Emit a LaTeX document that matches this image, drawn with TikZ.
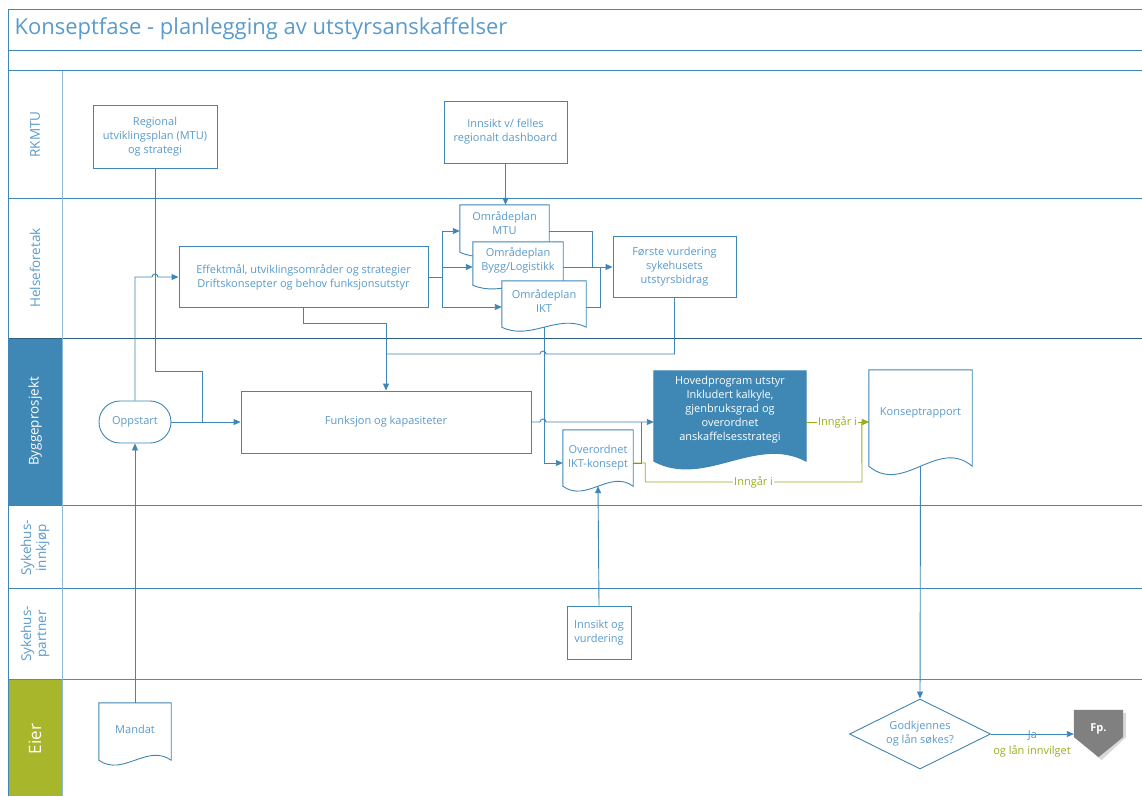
\documentclass[tikz,border=0pt]{standalone}
\usepackage{fontspec}
\setmainfont{Open Sans}
\usetikzlibrary{calc,shapes.geometric,arrows.meta}

\definecolor{ln}{HTML}{3F86B6}
\definecolor{tx}{HTML}{5A9BCB}
\definecolor{bp}{HTML}{3F88B5}
\definecolor{ei}{HTML}{A7B62A}
\definecolor{gr}{HTML}{9AAF1E}
\definecolor{dk}{HTML}{2F5F80}
\definecolor{gg}{HTML}{6B8A6B}
\definecolor{lt}{HTML}{8DBAD8}

\newcommand\docshape[3][white]{%
  \draw[line,fill=#1] (#2.north west) -- (#2.north east) -- (#2.south east)
    .. controls ($(#2.south east)!1/3!(#2.south west)+(0,-#3)$)
       and ($(#2.south east)!2/3!(#2.south west)+(0,#3)$) .. (#2.south west) -- cycle;}

\begin{document}
\begin{tikzpicture}[x=1pt,y=-1pt,
  font=\fontsize{11}{14}\selectfont,
  line/.style={draw=ln, line width=0.9pt},
  arr/.style={line, -{Triangle[length=7pt,width=6pt]}},
  grn/.style={draw=gr, line width=0.9pt},
  grnarr/.style={grn, -{Triangle[length=7pt,width=6pt]}},
  box/.style={draw=ln, line width=0.9pt, text=tx, align=center, inner sep=2pt},
  docbox/.style={inner sep=0pt},
  txt/.style={text=tx, align=center, inner sep=1pt},
  lane/.style={rotate=90, text=tx, align=center, font=\fontsize{13.5}{15}\selectfont},
  lbl/.style={fill=white, text=gr, inner sep=1pt}]

\fill[white] (0,0) rectangle (1142,796);
\useasboundingbox (0,0) rectangle (1142,796);

\fill[bp] (8,338.5) rectangle (62,505);
\fill[ei] (8,679) rectangle (62,796);
\foreach \y/\c in {9/ln,50/ln,70.5/ln,198/ln,338.5/dk,505/ln,588/ln,679/gg}
  \draw[draw=\c, line width=1pt] (8,\y) -- (1142,\y);
\draw[ln, line width=1pt] (8,9) -- (8,796);
\draw[lt, line width=1pt] (62,70.5) -- (62,796);

\node[anchor=west, text=tx, font=\fontsize{22}{26}\selectfont] (title) at (11,29) {Konseptfase - planlegging av utstyrsanskaffelser};

\node[lane] (rkmtu) at (35,134.5) {RKMTU};
\node[lane] (hf) at (35,268) {Helseforetak};
\node[lane, text=white] (bygp) at (35,421.5) {Byggeprosjekt};
\node[lane] (innk) at (35,548) {Sykehus-\\innkjøp};
\node[lane] (partn) at (35,634) {Sykehus-\\partner};
\node[lane, text=white, font=\fontsize{17}{19}\selectfont] (eier) at (35,739) {Eier};

\node[box, minimum width=124pt, minimum height=63pt] (reg) at (155,136.5) {Regional\\utviklingsplan (MTU)\\og strategi};
\node[box, minimum width=123pt, minimum height=62pt] (inns) at (505.5,132) {Innsikt v/ felles\\regionalt dashboard};
\node[box, minimum width=249pt, minimum height=61pt] (eff) at (303.5,277) {Effektmål, utviklingsområder og strategier\\Driftskonsepter og behov funksjonsutstyr};

\node[docbox, minimum width=89pt, minimum height=47pt] (mtu) at (504.5,228.5) {};
\docshape{mtu}{14}
\node[txt] (mtut) at ($(mtu)+(0,-5)$) {Områdeplan\\MTU};
\node[docbox, minimum width=90pt, minimum height=43pt] (bygg) at (518,263.5) {};
\docshape{bygg}{13}
\node[txt] (byggt) at ($(bygg)+(0,-3.5)$) {Områdeplan\\Bygg/Logistikk};
\node[docbox, minimum width=84pt, minimum height=46pt] (ikt) at (544,304) {};
\docshape{ikt}{14}
\node[txt] (iktt) at ($(ikt)+(0,-3)$) {Områdeplan\\IKT};

\node[box, minimum width=123pt, minimum height=61pt] (forste) at (674.5,266.5) {Første vurdering\\sykehusets\\utstyrsbidrag};

\node[box, rounded corners=21pt, minimum width=72pt, minimum height=42pt] (oppstart) at (135,422) {Oppstart};
\node[box, minimum width=290pt, minimum height=62pt] (funk) at (386,422) {Funksjon og kapasiteter};

\node[docbox, minimum width=152pt, minimum height=90pt] (hoved) at (730,416) {};
\docshape[bp]{hoved}{27}
\node[txt, text=white] (hovedt) at ($(hoved)+(0,-6)$) {Hovedprogram utstyr\\Inkludert kalkyle,\\gjenbruksgrad og\\overordnet\\anskaffelsesstrategi};

\node[docbox, minimum width=70pt, minimum height=56pt] (ovr) at (598,458) {};
\docshape{ovr}{17}
\node[txt] (ovrt) at (ovr) {Overordnet\\IKT-konsept};

\node[docbox, minimum width=103pt, minimum height=96pt] (konsept) at (920.5,418) {};
\docshape{konsept}{29}
\node[txt] (konseptt) at ($(konsept)+(0,-5)$) {Konseptrapport};

\node[box, minimum width=64pt, minimum height=53pt] (innsv) at (599,632.5) {Innsikt og\\vurdering};

\node[docbox, minimum width=72pt, minimum height=57pt] (mandat) at (135,731.5) {};
\docshape{mandat}{17}
\node[txt] (mandatt) at ($(mandat)+(0,-2.5)$) {Mandat};

\node[box, diamond, aspect=2, inner sep=0pt, minimum width=141pt, minimum height=70pt] (godk) at (920,734) {Godkjennes\\og lån søkes?};

\node[docbox, minimum width=49pt, minimum height=47pt] (fp) at (1098.5,733.5) {};
\fill[black!15] ($(fp.north west)+(3,3)$) -- ($(fp.north east)+(3,3)$) -- ($(fp.east)+(3,3.5)$) -- ($(fp.south)+(3,3)$) -- ($(fp.west)+(3,3.5)$) -- cycle;
\fill[black!50] (fp.north west) -- (fp.north east) -- ($(fp.east)+(0,3.5)$) -- (fp.south) -- ($(fp.west)+(0,3.5)$) -- cycle;
\node[text=white, font=\fontsize{11}{13}\selectfont\bfseries] (fpt) at ($(fp)+(0,-4.5)$) {Fp.};

\coordinate (j1) at (202,422);
\coordinate (b1) at (442,277);

\draw[line] (reg.south) |- ($(j1)+(0,-51)$) -- (j1);
\draw[arr] (mandat.north) -- (oppstart.south);
\draw[arr] (oppstart.north) |- (152,277) arc[start angle=180, end angle=0, radius=3pt] -- (eff.west);
\draw[arr] (oppstart.east) -- (funk.west);
\draw[arr] (inns.south) -- (inns.south |- mtu.north);
\draw[line] (eff.east) -- (b1);
\draw[arr] (b1) |- ($(mtu.west)+(0,2.5)$);
\draw[arr] (b1) |- ($(bygg.west)+(0,3.5)$);
\draw[arr] (b1) |- ($(ikt.west)+(0,3)$);
\draw[line] ($(mtu.east)+(0,2.5)$) -| ($(forste.west)+(-20,0.5)$);
\draw[line] ($(ikt.east)+(0,3)$) -| ($(forste.west)+(-12,0.5)$);
\draw[arr] ($(bygg.east)+(0,3.5)$) -- ($(forste.west)+(0,0.5)$);
\draw[arr] (eff.south) -- ++(0,15) -| (funk.north);
\draw[line] (forste.south) |- (546,354) arc[start angle=0, end angle=180, radius=3pt] -- (funk.north |- 0,354);
\draw[arr] (ikt.south) |- ($(ovr.west)+(0,5)$);
\draw[arr] (funk.east) -- (540,422) arc[start angle=180, end angle=0, radius=3pt] -- (funk.east -| hoved.west);
\draw[line] ($(ovr.east)+(0,5)$) -| (641,422);
\draw[grnarr] ($(ovr.east)+(0,5)$) -- ++(12,0) |- (862,482) node[lbl, pos=0.75] (inn2) {Inngår i} -- ($(konsept.west)+(-7,4)$) -- ($(konsept.west)+(0,4)$);
\draw[grnarr] ($(hoved.east)+(0,6)$) -- node[lbl] (inn1) {Inngår i} ($(konsept.west)+(0,4)$);
\draw[arr] (innsv.north) -- (ovr.south);
\draw[arr] (konsept.south) -- (godk.north);
\draw[arr] (godk.east) -- node[text=tx, inner sep=0pt, yshift=-2pt] (ja) {Ja} (fp.west |- godk.east);
\node[text=gr] (lan) at (1032,751) {og lån innvilget};
\end{tikzpicture}
\end{document}
